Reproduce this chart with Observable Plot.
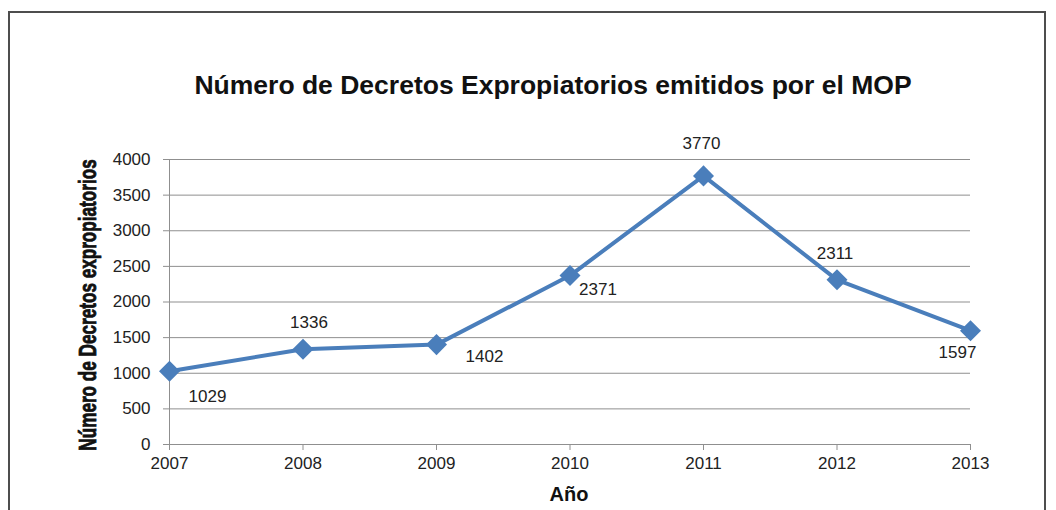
<!DOCTYPE html>
<html><head><meta charset="utf-8">
<script src="https://cdn.jsdelivr.net/npm/d3@7"></script>
<script src="https://cdn.jsdelivr.net/npm/@observablehq/plot@0.6"></script>
<style>
body{margin:0;background:#fff;}
#wrap{position:relative;width:1056px;height:510px;overflow:hidden;font-family:"Liberation Sans",Arial,sans-serif;color:#111;}
#frame{position:absolute;left:8px;top:11px;width:1038px;height:540px;border:2px solid #4d4d4d;box-sizing:border-box;}
#title{position:absolute;left:53px;width:1000px;top:70px;text-align:center;font-weight:bold;font-size:26.5px;white-space:nowrap;}
#ylab{position:absolute;left:88px;top:305px;transform:translate(-50%,-50%) rotate(-90deg) scaleX(0.745);font-weight:bold;font-size:23px;white-space:nowrap;-webkit-text-stroke:0.8px #111;}
#xlab{position:absolute;left:519px;width:100px;top:483px;text-align:center;font-weight:bold;font-size:20px;}
#chart{position:absolute;left:0;top:0;}
</style></head>
<body>
<div id="wrap">
  <div id="frame"></div>
  <div id="chart"></div>
  <div id="title">Número de Decretos Expropiatorios emitidos por el MOP</div>
  <div id="ylab">Número de Decretos expropiatorios</div>
  <div id="xlab">Año</div>
</div>
<script>
const years = [2007, 2008, 2009, 2010, 2011, 2012, 2013];
const decretos = [1029, 1336, 1402, 2371, 3770, 2311, 1597];
const yTicks = [0, 500, 1000, 1500, 2000, 2500, 3000, 3500, 4000];
// label placement offsets (pixels) for each data label
const labelDx = [38, 6, 48, 28, -2, -2, -13];
const labelDy = [25, -27, 12, 14, -32, -26, 22];

const data = years.map((y, i) => ({year: y, value: decretos[i]}));
const lineColor = "#4a7ebb";
const gridColor = "#8f8f8f";

const labels = data.map((d, i) => Plot.text([d], {
  x: "year", y: "value", text: d => String(d.value),
  dx: labelDx[i], dy: labelDy[i], fontSize: 17, fill: "#222"
}));

const chart = Plot.plot({
  width: 1056, height: 510,
  marginLeft: 169, marginRight: 86, marginTop: 159, marginBottom: 66,
  style: {fontFamily: "'Liberation Sans', Arial, sans-serif", fontSize: "17px", color: "#222", background: "transparent"},
  x: {domain: [2007, 2013]},
  y: {domain: [0, 4000]},
  marks: [
    Plot.gridY(yTicks, {stroke: gridColor, strokeOpacity: 1}),
    Plot.ruleX([2007], {stroke: gridColor}),
    Plot.ruleY([0], {stroke: gridColor}),
    Plot.axisY(yTicks, {tickSize: 6, tickPadding: 13, tickFormat: "d", stroke: gridColor, fill: "#222", label: null, fontSize: 17}),
    Plot.axisX(years, {tickSize: 6, tickPadding: 6, tickFormat: "d", stroke: gridColor, fill: "#222", label: null, fontSize: 17}),
    Plot.line(data, {x: "year", y: "value", stroke: lineColor, strokeWidth: 4}),
    Plot.dot(data, {x: "year", y: "value", symbol: "square", r: 8.4, rotate: 45, fill: lineColor, stroke: "none"}),
    ...labels
  ]
});
document.getElementById("chart").appendChild(chart);
</script>
</body></html>
